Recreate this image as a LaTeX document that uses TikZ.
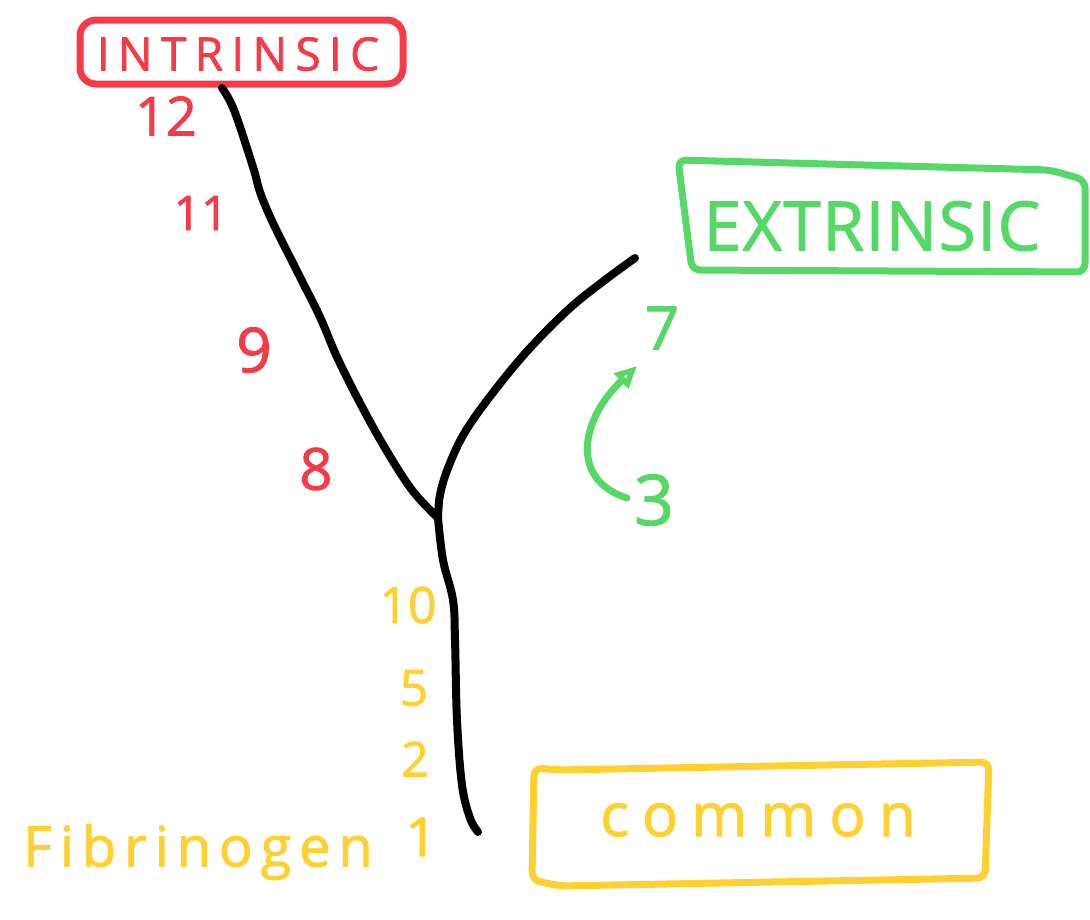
\documentclass[tikz,border=0pt]{standalone}
\usepackage{fontspec}
\setmainfont{Open Sans}
\usetikzlibrary{arrows.meta}
\definecolor{hred}{HTML}{F53B47}
\definecolor{hgreen}{HTML}{55D865}
\definecolor{hyellow}{HTML}{FFD030}
\begin{document}
\begin{tikzpicture}[x=1pt,y=-1pt,line cap=round,line join=round,
  pen/.style={line width=7pt},
  ink/.style={line width=8pt,black},
  lbl/.style={inner sep=0pt,anchor=center},
  fs/.style={font=\fontsize{#1}{#1}\selectfont\addfontfeatures{FakeBold=1.5}}]
\useasboundingbox (0,0) rectangle (1090,919);
% boxes
\draw[pen,hred,rounded corners=16pt] (80,20) rectangle (403,84);
\node[lbl,hred,fs=46] (intr) at (238,54) {\addfontfeatures{LetterSpace=18}INTRINSIC};
\draw[pen,hgreen,rounded corners=8pt] (678,160) -- (1050,170) -- (1085,180) -- (1085,272) -- (692,270) -- cycle;
\node[lbl,hgreen,fs=68] (extr) at (872,226) {\addfontfeatures{LetterSpace=2}EXTRINSIC};
\draw[pen,hyellow,rounded corners=8pt] (534,768) -- (532,880) -- (560,886) -- (985,878) -- (989,762) -- (560,770) -- cycle;
\node[lbl,hyellow,fs=60] (comm) at (758,820) {\addfontfeatures{LetterSpace=22}common};
\node[lbl,hyellow,fs=56] (fib) at (198,852) {\addfontfeatures{LetterSpace=14}Fibrinogen};
% numbers
\node[lbl,hred,fs=54] (n12) at (166,116) {12};
\node[lbl,hred,fs=48] (n11) at (201,213) {11};
\node[lbl,hred,fs=62] (n9) at (254,350) {9};
\node[lbl,hred,fs=58] (n8) at (316,469) {8};
\node[lbl,hgreen,fs=60] (n7) at (662,328) {7};
\node[lbl,hgreen,fs=70] (n3) at (654,500) {3};
\node[lbl,hyellow,fs=50] (n10) at (408,605) {10};
\node[lbl,hyellow,fs=50] (n5) at (414,688) {5};
\node[lbl,hyellow,fs=48] (n2) at (415,759) {2};
\node[lbl,hyellow,fs=54] (n1) at (421,837) {1};
% Y lines
\coordinate (ib) at (222,88);
\coordinate (eb) at (635,258);
\coordinate (j) at (438,518);
\coordinate (cb) at (478,832);
\draw[ink] plot[smooth,tension=0.6] coordinates {(ib) (234,110) (253,167) (260,192) (273,223) (300,277) (320,317) (337,357) (360,403) (385,448) (412,490) (j)};
\draw[ink] plot[smooth,tension=0.6] coordinates {(eb) (605,280) (570,308) (530,348) (495,390) (465,432) (448,468) (440,495) (j)};
\draw[ink] plot[smooth,tension=0.6] coordinates {(j) (443,560) (453,600) (455,640) (457,720) (462,785) (470,818) (cb)};
% green arrow
\coordinate (a0) at (627,498);
\coordinate (a1) at (637,366);
\draw[pen,hgreen,-{Triangle[open,length=22pt,width=20pt,line width=6pt]}] (a0) .. controls (570,480) and (580,420) .. (a1);
\end{tikzpicture}
\end{document}
